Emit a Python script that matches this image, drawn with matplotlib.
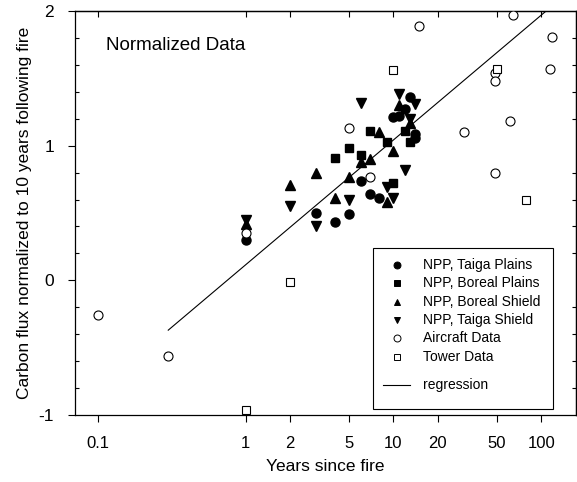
import matplotlib
matplotlib.use("Agg")
import matplotlib.pyplot as plt
from matplotlib.patches import Rectangle
from matplotlib.ticker import FixedLocator, FixedFormatter, MultipleLocator, NullLocator

plt.rcParams['font.family'] = ['Liberation Sans', 'DejaVu Sans']
plt.rcParams['axes.unicode_minus'] = False

# NPP, Taiga Plains (filled circles)
tp_x = [1, 3, 4, 5, 6, 7, 8, 10, 11, 12, 13, 14, 14]
tp_y = [0.30, 0.50, 0.43, 0.49, 0.74, 0.64, 0.61, 1.21, 1.22, 1.27, 1.36, 1.09, 1.06]

# NPP, Boreal Plains (filled squares)
bp_x = [4, 5, 6, 7, 9, 10, 12, 13]
bp_y = [0.91, 0.98, 0.93, 1.11, 1.03, 0.72, 1.11, 1.03]

# NPP, Boreal Shield (triangles up)
bs_x = [1, 2, 3, 4, 5, 6, 7, 8, 9, 10, 11, 13]
bs_y = [0.42, 0.71, 0.80, 0.61, 0.77, 0.88, 0.90, 1.10, 0.58, 0.96, 1.30, 1.17]

# NPP, Taiga Shield (triangles down)
ts_x = [1, 2, 3, 5, 6, 9, 10, 11, 12, 13, 14]
ts_y = [0.45, 0.55, 0.40, 0.60, 1.32, 0.69, 0.61, 1.38, 0.82, 1.20, 1.31]

# aircraft / tower
air_x = [0.1, 0.3, 1, 5, 7, 15, 30, 49, 49, 49, 62, 64, 114, 118]
air_y = [-0.26, -0.56, 0.35, 1.13, 0.77, 1.89, 1.10, 1.54, 1.48, 0.80, 1.18, 1.97, 1.57, 1.81]
tow_x = [1, 2, 10, 50, 79]
tow_y = [-0.96, -0.015, 1.565, 1.567, 0.60]

# regression line end points
reg_x = [0.3, 108]
reg_y = [-0.37, 2.0]

xticks = [0.1, 1, 2, 5, 10, 20, 50, 100]
xticklabels = ['0.1', '1', '2', '5', '10', '20', '50', '100']
yticks = [-1, 0, 1, 2]

legend_labels = ['NPP, Taiga Plains', 'NPP, Boreal Plains', 'NPP, Boreal Shield',
                 'NPP, Taiga Shield', 'Aircraft Data', 'Tower Data']
legend_markers = ['o', 's', '^', 'v', 'o', 's']
legend_filled = [True, True, True, True, False, False]

fig = plt.figure(figsize=(5.77, 4.82), dpi=100)
ax = fig.add_axes([75/577, 1 - 415/482, 501/577, 404/482])

ms = 6.5
ax.plot(reg_x, reg_y, color='black', lw=0.8, zorder=2)
ax.plot(tp_x, tp_y, 'o', color='black', ms=ms, ls='none', zorder=3)
ax.plot(bp_x, bp_y, 's', color='black', ms=ms - 0.5, ls='none', zorder=3)
ax.plot(bs_x, bs_y, '^', color='black', ms=ms, ls='none', zorder=3)
ax.plot(ts_x, ts_y, 'v', color='black', ms=ms, ls='none', zorder=3)
ax.plot(air_x, air_y, 'o', mfc='white', mec='black', mew=0.8, ms=ms, ls='none', zorder=4)
ax.plot(tow_x, tow_y, 's', mfc='white', mec='black', mew=0.8, ms=ms - 0.8, ls='none', zorder=4)

ax.set_xscale('log')
ax.set_xlim(0.0702, 172)
ax.set_ylim(-1, 2)

ax.xaxis.set_major_locator(FixedLocator(xticks))
ax.xaxis.set_major_formatter(FixedFormatter(xticklabels))
ax.xaxis.set_minor_locator(NullLocator())
ax.yaxis.set_major_locator(FixedLocator(yticks))
ax.yaxis.set_minor_locator(MultipleLocator(0.2))

ax.tick_params(axis='x', which='major', direction='out', length=5, width=0.8,
               labelsize=12, pad=10, top=False)
ax.tick_params(axis='y', which='major', direction='out', length=5, width=0.8,
               labelsize=12.5, pad=10, right=False)
ax.tick_params(axis='y', which='minor', direction='in', length=3, width=0.8, right=False)

# ticks on top / right like the original
top = ax.secondary_xaxis('top')
top.xaxis.set_major_locator(FixedLocator(xticks))
top.xaxis.set_minor_locator(NullLocator())
top.tick_params(direction='in', length=4, width=0.8, labeltop=False)
right = ax.secondary_yaxis('right')
right.yaxis.set_major_locator(FixedLocator(yticks))
right.yaxis.set_minor_locator(MultipleLocator(0.2))
right.tick_params(which='major', direction='out', length=5, width=0.8, labelright=False)
right.tick_params(which='minor', direction='in', length=3, width=0.8)
for s in ['left', 'bottom', 'top', 'right']:
    ax.spines[s].set_linewidth(0.9)
top.spines['top'].set_linewidth(0.9)
right.spines['right'].set_linewidth(0.9)

ax.set_xlabel('Years since fire', fontsize=12.5, labelpad=6)
ax.set_ylabel('Carbon flux normalized to 10 years following fire', fontsize=12.5, labelpad=5)

ax.text(0.062, 0.915, 'Normalized Data', transform=ax.transAxes, fontsize=13.5,
        ha='left', va='center')

# legend box drawn by hand (gap before the regression entry)
ax.add_patch(Rectangle((0.595, 0.015), 0.359, 0.398, transform=ax.transAxes,
                       facecolor='white', edgecolor='black', lw=0.8, zorder=5))
row_y = [0.371, 0.326, 0.280, 0.235, 0.190, 0.144]
for lab, mk, filled, yy in zip(legend_labels, legend_markers, legend_filled, row_y):
    ax.plot([0.642], [yy], mk, transform=ax.transAxes, ms=5,
            mfc='black' if filled else 'white', mec='black', mew=0.7,
            zorder=6, clip_on=False)
    ax.text(0.695, yy, lab, transform=ax.transAxes, fontsize=10,
            va='center', ha='left', zorder=6)
ax.plot([0.615, 0.669], [0.074, 0.074], transform=ax.transAxes, color='black',
        lw=0.8, zorder=6)
ax.text(0.695, 0.074, 'regression', transform=ax.transAxes, fontsize=10,
        va='center', ha='left', zorder=6)

fig.savefig('out.png', dpi=100)
